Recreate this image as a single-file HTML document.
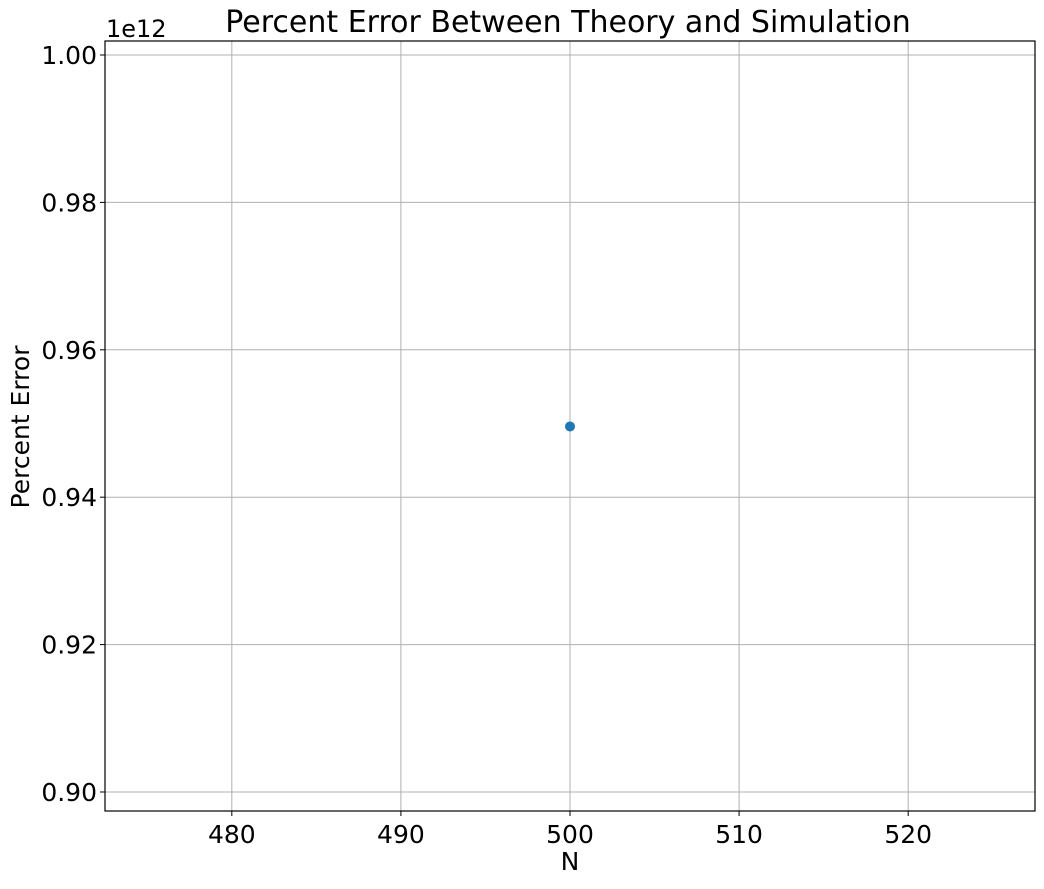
<!DOCTYPE html>
<html><head><meta charset="utf-8"><style>
body{margin:0;background:#fff;}
svg text{font-family:"DejaVu Sans","Liberation Sans",sans-serif;fill:#000;}
</style></head><body>
<svg width="1044" height="884" xmlns="http://www.w3.org/2000/svg">
<rect width="1044" height="884" fill="#fff"/>
<g id="grid"></g>
<g id="ticks"></g>
<g id="points"></g>
<rect x="105" y="41" width="930" height="770" fill="none" stroke="#000" stroke-width="1.2"/>
<text x="568" y="32" font-size="30" text-anchor="middle">Percent Error Between Theory and Simulation</text>
<text x="570" y="870" font-size="25" text-anchor="middle">N</text>
<text x="0" y="0" font-size="25" text-anchor="middle" transform="translate(29,427) rotate(-90)">Percent Error</text>
<text x="106" y="37" font-size="24">1e12</text>
</svg>
<script>
const xTicks=[480,490,500,510,520];
const yTicks=[0.90,0.92,0.94,0.96,0.98,1.00];
const yTickLabels=["0.90","0.92","0.94","0.96","0.98","1.00"];
const nValues=[500];
const errValues=[0.9496];
const L=105,R=1035,T=41,B=811;
const xMin=472.5,xMax=527.5,yMin=0.89742,yMax=1.0019;
function sx(v){return L+(v-xMin)/(xMax-xMin)*(R-L);}
function sy(v){return B-(v-yMin)/(yMax-yMin)*(B-T);}
const NS="http://www.w3.org/2000/svg";
const grid=document.getElementById('grid'),ticks=document.getElementById('ticks'),pts=document.getElementById('points');
function mk(t,a,p){const e=document.createElementNS(NS,t);for(const k in a)e.setAttribute(k,a[k]);p.appendChild(e);return e;}
xTicks.forEach(v=>{const x=sx(v);
 const g=mk('line',{x1:x,x2:x,y1:T,y2:B,stroke:'#b0b0b0','stroke-width':1},grid);
 
 
 mk('line',{x1:x,x2:x,y1:B,y2:B+5,stroke:'#000'},ticks);
 const t=mk('text',{x:x,y:B+32,'font-size':25,'text-anchor':'middle'},ticks);t.textContent=v;
 
 
});
yTicks.forEach((v,i)=>{const y=sy(v);
 const g=mk('line',{x1:L,x2:R,y1:y,y2:y,stroke:'#b0b0b0','stroke-width':1},grid);
 
 
 mk('line',{x1:L-5,x2:L,y1:y,y2:y,stroke:'#000'},ticks);
 const t=mk('text',{x:L-8,y:y+9,'font-size':25,'text-anchor':'end'},ticks);t.textContent=yTickLabels[i];
 
 
});
nValues.forEach((n,i)=>{
 const c=mk('circle',{cx:sx(n),cy:sy(errValues[i]),r:5,fill:'#1f77b4'},pts);
 
 
});
</script>
</body></html>
